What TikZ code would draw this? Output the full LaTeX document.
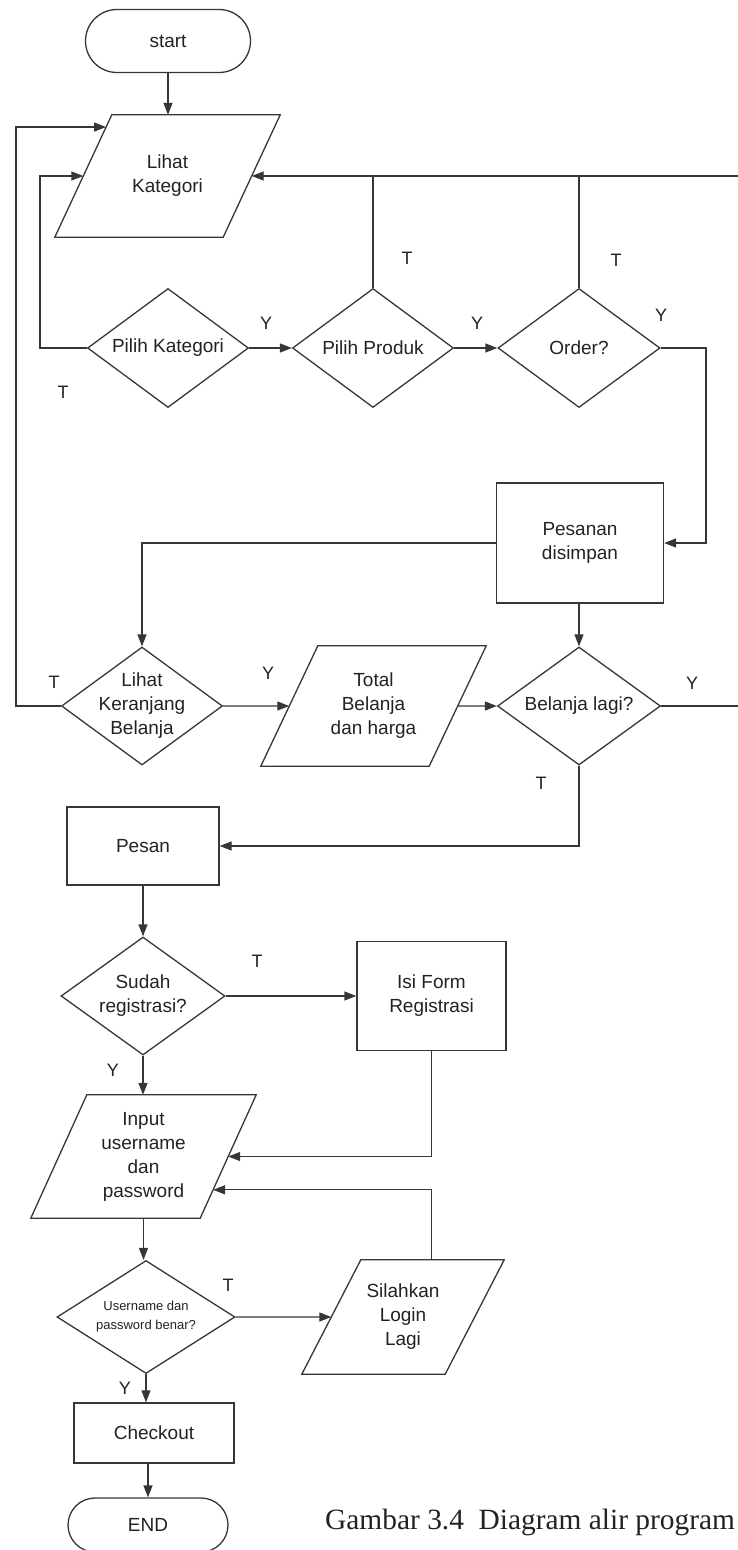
\documentclass[tikz,border=0pt]{standalone}
\usepackage{fontspec}
\setmainfont{Liberation Sans}
\newfontfamily\captionserif{Liberation Serif}
\usetikzlibrary{shapes.geometric,shapes.misc,arrows.meta,calc}

\definecolor{ink}{HTML}{363636}
\definecolor{txt}{HTML}{222222}

% Slanted input/output box drawn around a plain rectangular node:
% #1 = node name, #2 = horizontal slant of the sides
\newcommand\ioframe[2]{%
  \coordinate (#1-tl) at ($(#1.north west)+(#2,0)$);
  \coordinate (#1-br) at ($(#1.south east)-(#2,0)$);
  \draw[link] (#1-tl) -- (#1.north east) -- (#1-br) -- (#1.south west) -- cycle;}

\begin{document}
\begin{tikzpicture}[x=1pt,y=-1pt,
  every node/.style={font=\fontsize{19}{24}\selectfont, text=txt},
  box/.style={rectangle, draw=ink, line width=1.3pt, inner sep=0pt, align=center},
  term/.style={rounded rectangle, draw=ink, line width=1.3pt, inner sep=0pt},
  iobox/.style={rectangle, inner sep=0pt, align=center},
  dec/.style={diamond, draw=ink, line width=1.3pt, inner sep=0pt},
  dtext/.style={align=center, inner sep=0pt},
  flag/.style={font=\fontsize{18}{18}\selectfont, inner sep=0pt},
  link/.style={draw=ink, line width=1.3pt, line join=miter},
  arr/.style={link, -{Triangle[length=12pt,width=9pt]}}]

\path[use as bounding box] (0,0) rectangle (738,1550);
\clip (0,0) rectangle (738,1550);

% ---------- shapes ----------
\node[term, minimum width=165pt, minimum height=63pt] (start) at (168,41) {start};
\node[iobox, minimum width=225pt, minimum height=122pt] (lk) at (167.5,176) {Lihat\\Kategori};
\ioframe{lk}{57}

\node[dec, minimum width=161pt, minimum height=119pt,
  label={[dtext]center:Pilih Kategori}] (pk) at (168,348) {};
\node[dec, minimum width=161pt, minimum height=119pt,
  label={[dtext]center:Pilih Produk}] (pp) at (373,348) {};
\node[dec, minimum width=162pt, minimum height=119pt,
  label={[dtext]center:Order?}] (ord) at (579,348) {};

\node[box, minimum width=167pt, minimum height=120pt] (ps) at (580,543) {Pesanan\\disimpan};

\node[dec, minimum width=161pt, minimum height=118pt,
  label={[dtext]center:Lihat\\Keranjang\\Belanja}] (lkb) at (142,706) {};
\node[iobox, minimum width=225pt, minimum height=120pt] (tot) at (373.5,706) {Total\\Belanja\\dan harga};
\ioframe{tot}{57}
\node[dec, minimum width=163pt, minimum height=118pt,
  label={[dtext]center:Belanja lagi?}] (bl) at (579,706) {};

\node[box, minimum width=152pt, minimum height=78pt] (pesan) at (143,846) {Pesan};

\node[dec, minimum width=164pt, minimum height=118pt,
  label={[dtext]center:Sudah\\registrasi?}] (sr) at (143,996) {};
\node[box, minimum width=149pt, minimum height=109pt] (isi) at (431.5,996) {Isi Form\\Registrasi};

\node[iobox, minimum width=225pt, minimum height=123pt] (inp) at (143.5,1156.5) {Input\\username\\dan\\password};
\ioframe{inp}{56}

\node[dec, minimum width=178pt, minimum height=113pt,
  label={[dtext, font=\fontsize{13}{19}\selectfont]center:Username dan\\password benar?}] (up) at (146,1317) {};
\node[iobox, minimum width=202pt, minimum height=114pt] (sll) at (403,1317) {Silahkan\\Login\\Lagi};
\ioframe{sll}{59}

\node[box, minimum width=160pt, minimum height=60pt] (co) at (154,1433) {Checkout};
\node[term, minimum width=160pt, minimum height=54pt] (en) at (148,1525) {END};

\node[anchor=base west, inner sep=0pt, font=\captionserif\fontsize{29.4}{30}\selectfont]
  (cap) at (325,1529) {Gambar 3.4\ \ Diagram alir program};

% ---------- points on slanted sides ----------
\coordinate (lkA) at ($(lk.south west)!0.9!(lk-tl)$);
\coordinate (lkB) at ($(lk.south west)!0.5!(lk-tl)$);
\coordinate (lkC) at ($(lk-br)!0.5!(lk.north east)$);
\coordinate (totL) at ($(tot.south west)!0.5!(tot-tl)$);
\coordinate (totR) at ($(tot-br)!0.5!(tot.north east)$);
\coordinate (inpR1) at ($(inp-br)!0.5!(inp.north east)$);
\coordinate (inpR2) at ($(inp-br)!0.23!(inp.north east)$);
\coordinate (sllL) at ($(sll.south west)!0.5!(sll-tl)$);

% ---------- connectors ----------
\draw[arr] (start.south) -- (start.south |- lk.north);

% back to the category view
\draw[arr] (lkb.west) -- (16,706) |- (lkA);
\draw[arr] (pk.west) -- (40,348) |- (lkB);
\draw[arr] (bl.east) -- (746,706) |- (lkC);
\draw[link] (pp.north) -- (pp.north |- lkC);
\draw[link] (ord.north) -- (ord.north |- lkC);

\draw[arr] (pk.east) -- (pp.west);
\draw[arr] (pp.east) -- (ord.west);
\draw[arr] (ord.east) -- (706,348) |- (ps.east);

\draw[arr] (ps.west) -| (lkb.north);
\draw[arr] (bl.north |- ps.south) -- (bl.north);

\draw[arr] (lkb.east) -- (totL);
\draw[arr] (totR) -- (bl.west);

\draw[arr] (bl.south) |- (pesan.east);
\draw[arr] (pesan.south) -- (pesan.south |- sr.north);

\draw[arr] (sr.east) -- (sr.east -| isi.west);
\draw[arr] (isi.south) |- (inpR1);
\draw[arr] (sr.south) -- (sr.south |- inp.north);

\draw[arr] (inp.south) -- (inp.south |- up.north);
\draw[arr] (up.east) -- (sllL);
\draw[arr] (sll.north -| isi.south) |- (inpR2);

\draw[arr] (up.south) -- (up.south |- co.north);
\draw[arr] (en.north |- co.south) -- (en.north);

% ---------- branch labels ----------
\node[flag] (tPK) at (63,392) {T};
\node[flag] (yPK) at (266,323) {Y};
\node[flag] (yPP) at (477,323) {Y};
\node[flag] (tPP) at (407,258) {T};
\node[flag] (tOR) at (616,260) {T};
\node[flag] (yOR) at (661,315) {Y};
\node[flag] (tLK) at (54,682) {T};
\node[flag] (yLK) at (268,673) {Y};
\node[flag] (yBL) at (692,683) {Y};
\node[flag] (tBL) at (541,783) {T};
\node[flag] (tSR) at (257,961) {T};
\node[flag] (ySR) at (113,1070) {Y};
\node[flag] (tUP) at (228,1285) {T};
\node[flag] (yUP) at (125,1388) {Y};
\end{tikzpicture}
\end{document}
